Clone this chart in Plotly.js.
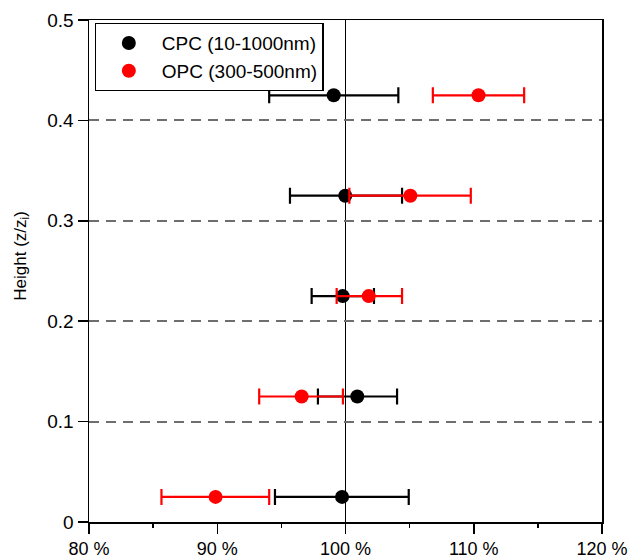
<!DOCTYPE html>
<html>
<head>
<meta charset="utf-8">
<script src="https://cdn.plot.ly/plotly-3.0.1.min.js"></script>
<style>html,body{margin:0;padding:0;background:#fff;}#chart{width:629px;height:560px;}</style>
</head>
<body>
<div id="chart"></div>
<script>
// Heights (z/z_i)
var heights = [0.425, 0.325, 0.225, 0.125, 0.025];
// CPC (10-1000nm)
var cpcValue = [99.08, 99.98, 99.78, 100.92, 99.73];
var cpcLow   = [94.05, 95.67, 97.36, 97.85, 94.50];
var cpcHigh  = [104.12, 104.41, 102.22, 104.02, 104.93];
// OPC (300-500nm)
var opcValue = [110.37, 105.06, 101.81, 96.58, 89.87];
var opcLow   = [106.81, 100.30, 99.31, 93.27, 85.65];
var opcHigh  = [113.93, 109.77, 104.41, 99.80, 94.05];
// Axis ticks
var xTicks = [80, 90, 100, 110, 120];
var xTickText = ['80 %', '90 %', '100 %', '110 %', '120 %'];
var xMinorTicks = [85, 95, 105, 115];
var yTicks = [0, 0.1, 0.2, 0.3, 0.4, 0.5];
var yTickText = ['0', '0.1', '0.2', '0.3', '0.4', '0.5'];

function plus(v, h){ return v.map(function(x,i){ return h[i]-x; }); }
function minus(v, l){ return v.map(function(x,i){ return x-l[i]; }); }

var font = "Liberation Sans, Arial, sans-serif";

var traces = [
  {
    x: cpcValue, y: heights, type: 'scatter', mode: 'markers', name: 'CPC (10-1000nm)',
    marker: {color: '#000000', size: 14},
    error_x: {type: 'data', symmetric: false, array: plus(cpcValue, cpcHigh), arrayminus: minus(cpcValue, cpcLow),
              color: '#000000', thickness: 2.2, width: 8}
  },
  {
    x: opcValue, y: heights, type: 'scatter', mode: 'markers', name: 'OPC (300-500nm)',
    marker: {color: '#ff0000', size: 14},
    error_x: {type: 'data', symmetric: false, array: plus(opcValue, opcHigh), arrayminus: minus(opcValue, opcLow),
              color: '#ff0000', thickness: 2.2, width: 8}
  }
];

var layout = {
  width: 629, height: 560,
  margin: {l: 89, r: 27, t: 19.5, b: 38},
  paper_bgcolor: '#fff', plot_bgcolor: '#fff',
  font: {family: font, size: 18, color: '#000'},
  showlegend: true,
  legend: {x: 0.011, y: 0.994, xanchor: 'left', yanchor: 'top',
           bordercolor: '#000', borderwidth: 1.2, bgcolor: '#fff',
           font: {family: font, size: 19, color: '#000'}, itemwidth: 56,
           tracegroupgap: 0},
  xaxis: {
    range: [80, 120], tickmode: 'array', tickvals: xTicks, ticktext: xTickText,
    showline: true, linecolor: '#000', linewidth: 1.5, mirror: true,
    ticks: 'outside', ticklen: 10, tickwidth: 1.5, tickcolor: '#000',
    minor: {tickmode: 'array', tickvals: xMinorTicks, ticks: 'outside', ticklen: 4, tickwidth: 1.5, tickcolor: '#000', showgrid: false},
    showgrid: false, zeroline: false,
    tickfont: {family: font, size: 18}
  },
  yaxis: {
    range: [0, 0.5], tickmode: 'array', tickvals: yTicks, ticktext: yTickText,
    showline: true, linecolor: '#000', linewidth: 1.5, mirror: true,
    ticks: 'outside', ticklen: 10, tickwidth: 1.5, tickcolor: '#000',
    showgrid: true, gridcolor: '#6e6e6e', gridwidth: 2, griddash: '10px,7px',
    zeroline: false,
    tickfont: {family: font, size: 19}
  },
  annotations: [
    {text: 'Height (z/z<sub>i</sub>)', xref: 'paper', yref: 'paper', x: -0.131, y: 0.53,
     xanchor: 'center', yanchor: 'middle', textangle: -90, showarrow: false,
     font: {family: font, size: 17, color: '#000'}}
  ],
  shapes: [
    {type: 'line', xref: 'x', yref: 'paper', x0: 100, x1: 100, y0: 0, y1: 1,
     line: {color: '#000', width: 1}, layer: 'below'}
  ]
};

Plotly.newPlot('chart', traces, layout, {displayModeBar: false, staticPlot: true});
</script>
</body>
</html>
